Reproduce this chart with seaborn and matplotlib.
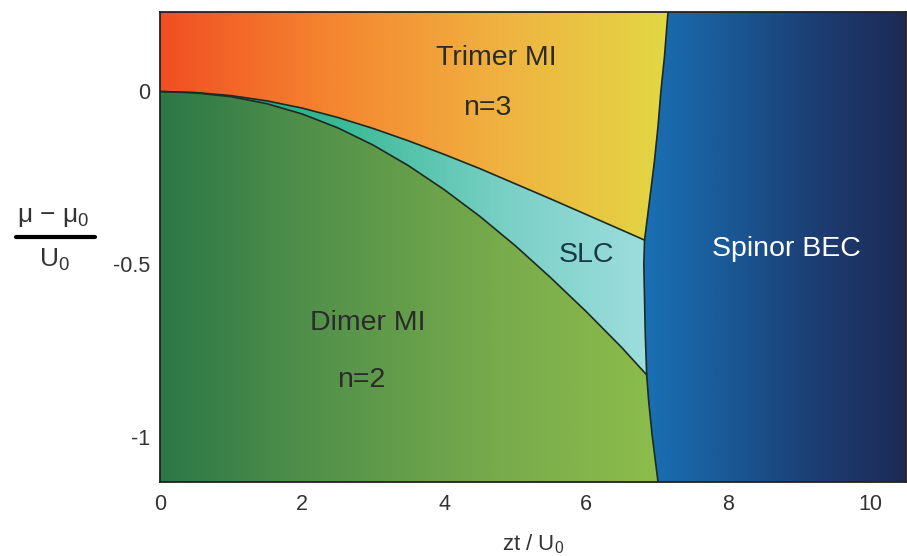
import numpy as np
import pandas as pd
import matplotlib
matplotlib.use("Agg")
import matplotlib.pyplot as plt
from matplotlib.colors import LinearSegmentedColormap
from matplotlib.patches import Polygon
from matplotlib.lines import Line2D
import seaborn as sns

# Phase boundaries (zt/U0 on x, (mu - mu0)/U0 on y)
trimer_zt = [0.0, 0.5, 1.0, 1.5, 2.0, 2.5, 3.0, 3.5, 4.0, 4.5, 5.0, 5.5, 6.0, 6.5, 6.82]
trimer_mu = [0.0, -0.003, -0.012, -0.027, -0.048, -0.075, -0.107, -0.143, -0.182,
             -0.223, -0.267, -0.311, -0.356, -0.401, -0.43]

dimer_zt = [0.0, 0.5, 1.0, 1.5, 2.0, 2.5, 3.0, 3.5, 4.0, 4.5, 5.0, 5.5, 6.0, 6.5, 6.85]
dimer_mu = [0.0, -0.004, -0.015, -0.035, -0.065, -0.105, -0.155, -0.215, -0.284,
            -0.361, -0.446, -0.539, -0.637, -0.741, -0.82]

bec_zt = [7.15, 7.10, 7.05, 7.01, 6.96, 6.90, 6.82, 6.81, 6.82, 6.83, 6.85, 6.88, 6.93, 7.01]
bec_mu = [0.23, 0.10, 0.0, -0.10, -0.20, -0.30, -0.43, -0.50, -0.60, -0.70, -0.82,
          -0.90, -1.00, -1.13]

x_ticks = [0, 2, 4, 6, 8, 10]
y_ticks = [0, -0.5, -1]
y_ticklabels = ["0", "-0.5", "-1"]
x_range = (0, 10.5)
y_range = (-1.13, 0.23)

# Phase names and where they sit
phase_names = ["Trimer MI", "n=3", "SLC", "Spinor BEC", "Dimer MI", "n=2"]
phase_zt = [4.73, 4.60, 6.00, 8.82, 2.92, 2.83]
phase_mu = [0.098, -0.049, -0.474, -0.457, -0.670, -0.835]
phase_colors = ["#2b2b2b", "#2b2b2b", "#173a44", "white", "#2b2b2b", "#2b2b2b"]

sns.set_theme(style="ticks")
plt.rcParams["font.family"] = ["Liberation Sans", "DejaVu Sans"]
plt.rcParams["axes.unicode_minus"] = False
plt.rcParams["mathtext.fontset"] = "custom"
plt.rcParams["mathtext.rm"] = "Liberation Sans"
plt.rcParams["mathtext.default"] = "regular"

fig = plt.figure(figsize=(9.07, 5.56), dpi=100)
ax = fig.add_axes([0.1764, 0.1331, 0.8225, 0.8453])
ax.set_xlim(*x_range)
ax.set_ylim(*y_range)

top, bottom = y_range[1], y_range[0]
j_tri = bec_mu.index(trimer_mu[-1])
j_dim = bec_mu.index(dimer_mu[-1])

tri = list(zip(trimer_zt, trimer_mu))
dim = list(zip(dimer_zt, dimer_mu))
bec = list(zip(bec_zt, bec_mu))

regions = {
    "trimer": [(0, top)] + bec[: j_tri + 1] + tri[::-1],
    "slc": tri + bec[j_tri + 1 : j_dim + 1] + dim[::-1][:-1],
    "dimer": dim + bec[j_dim + 1 :] + [(0, bottom)],
    "bec": bec + [(x_range[1], bottom), (x_range[1], top)],
}

gradients = {
    "trimer": (["#f04f22", "#f5852f", "#f0b240", "#e2d844"], (0, 7.2)),
    "slc": (["#14a37a", "#3dbb98", "#77cfc4", "#9edede"], (0.5, 6.9)),
    "dimer": (["#2c7847", "#55934a", "#77aa4b", "#8dbd4b"], (0, 7.05)),
    "bec": (["#1a70b5", "#1a5895", "#1d3d72", "#1c2b55"], (6.8, 10.5)),
}

ramp = np.linspace(0, 1, 512).reshape(1, -1)
for name, verts in regions.items():
    colors, (x0, x1) = gradients[name]
    cmap = LinearSegmentedColormap.from_list(name, colors)
    poly = Polygon(verts, closed=True, facecolor="none", edgecolor="none",
                   transform=ax.transData)
    ax.add_patch(poly)
    im = ax.imshow(ramp, cmap=cmap, aspect="auto", interpolation="bilinear",
                   extent=(x0, x1, bottom, top), origin="lower", zorder=1)
    im.set_clip_path(poly)

ax.set_xlim(*x_range)
ax.set_ylim(*y_range)

# Boundary lines
line_color = "#1c2a22"
boundaries = pd.concat([
    pd.DataFrame({"zt": trimer_zt, "mu": trimer_mu, "edge": "trimer"}),
    pd.DataFrame({"zt": dimer_zt, "mu": dimer_mu, "edge": "dimer"}),
    pd.DataFrame({"zt": bec_zt, "mu": bec_mu, "edge": "bec"}),
])
for edge, df in boundaries.groupby("edge"):
    sns.lineplot(data=df, x="zt", y="mu", sort=False, estimator=None,
                 color=line_color, linewidth=1.2, ax=ax, zorder=3)

for name, x, y, c in zip(phase_names, phase_zt, phase_mu, phase_colors):
    ax.text(x, y, name, ha="center", va="center", fontsize=20.5, color=c, zorder=4)

ax.set_xticks(x_ticks)
ax.set_yticks(y_ticks)
ax.set_yticklabels(y_ticklabels)
ax.tick_params(direction="in", length=6, width=1, color="#222222",
               labelsize=15.5, labelcolor="#333333")
ax.tick_params(axis="x", pad=9)
ax.tick_params(axis="y", pad=7)
for s in ax.spines.values():
    s.set_color("#222222")
    s.set_linewidth(1.3)
    s.set_zorder(5)

ax.set_xlabel("zt / U$_0$", fontsize=16, color="#333333", labelpad=12)
ax.set_ylabel("")

# Vertical-axis label as a stacked fraction
fig.text(0.059, 0.610, "μ − μ$_0$", ha="center", va="center", fontsize=19, color="#333333")
fig.text(0.060, 0.533, "U$_0$", ha="center", va="center", fontsize=19, color="#333333")
fig.add_artist(Line2D([0.018, 0.105], [0.574, 0.574], color="black", linewidth=3,
                      transform=fig.transFigure))

fig.savefig("out.png", dpi=100)
